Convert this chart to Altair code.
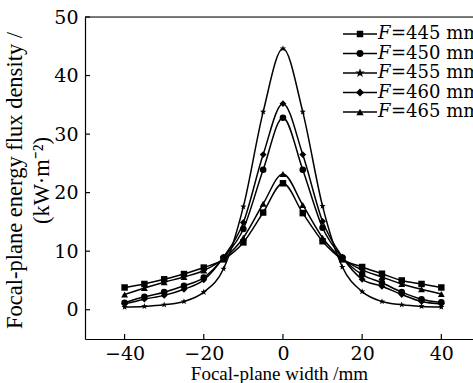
import altair as alt
import pandas as pd

# Focal-plane position (mm)
width_mm = [-40, -35, -30, -25, -20, -15, -10, -5, 0, 5, 10, 15, 20, 25, 30, 35, 40]

# Energy flux density (kW/m^2) for each focal length
flux_445 = [3.8, 4.4, 5.2, 6.1, 7.2, 8.6, 11.5, 16.6, 21.6, 16.5, 11.7, 8.6, 7.3, 6.15, 5.0, 4.4, 3.8]
flux_450 = [1.2, 2.2, 3.0, 4.1, 5.5, 8.9, 13.8, 23.9, 32.8, 23.9, 14.0, 8.9, 6.0, 4.6, 3.0, 1.8, 1.25]
flux_455 = [0.45, 0.57, 0.85, 1.4, 3.0, 7.0, 17.6, 33.8, 44.6, 33.8, 17.7, 7.3, 3.1, 1.4, 0.85, 0.57, 0.45]
flux_460 = [1.0, 1.8, 2.45, 3.5, 5.1, 9.0, 14.9, 26.5, 35.2, 26.5, 15.1, 9.0, 5.2, 4.0, 2.6, 1.4, 1.0]
flux_465 = [2.6, 3.7, 4.7, 5.6, 6.7, 8.7, 12.3, 18.1, 23.2, 17.9, 12.3, 8.7, 6.8, 5.6, 4.4, 3.5, 2.7]

focal_lengths = ["445", "450", "455", "460", "465"]
series_values = [flux_445, flux_450, flux_455, flux_460, flux_465]

x_ticks = [-40, -20, 0, 20, 40]
y_ticks = [0, 10, 20, 30, 40, 50]

# five-pointed star as a custom symbol path (unit box)
STAR = ("M0,-1L0.235,-0.324L0.951,-0.309L0.38,0.124L0.588,0.809L0,0.4"
        "L-0.588,0.809L-0.38,0.124L-0.951,-0.309L-0.235,-0.324Z")

# marker style per series
marker_shapes = ["square", "circle", STAR, "diamond", "triangle-up"]
marker_sizes = [42, 48, 95, 64, 55]

rows = []
for f, vals in zip(focal_lengths, series_values):
    for x, v in zip(width_mm, vals):
        rows.append({"F": f, "x": x, "flux": v})
df = pd.DataFrame(rows)

W, H = 388, 322
LABEL_FONT = "DejaVu Serif"
TITLE_FONT = "Liberation Serif"

x_scale = alt.Scale(domain=[-50, 48], nice=False, zero=False)
y_scale = alt.Scale(domain=[-5, 50], nice=False, zero=False)

x_axis = alt.Axis(
    values=x_ticks, format="d", tickSize=0, grid=False,
    labelFont=LABEL_FONT, labelFontSize=19, labelColor="black", labelPadding=5,
    domainColor="black", domainWidth=1.2,
    title="Focal-plane width /mm", titleFont=TITLE_FONT, titleFontSize=19,
    titleFontWeight="normal", titleColor="black", titlePadding=1,
)
y_axis = alt.Axis(
    values=y_ticks, format="d", tickSize=0, grid=False,
    labelFont=LABEL_FONT, labelFontSize=19, labelColor="black", labelPadding=7,
    domainColor="black", domainWidth=1.2,
    title=["Focal-plane energy flux density /", "(kW·m⁻²)"],
    titleFont=TITLE_FONT, titleFontSize=22.5, titleFontWeight="normal",
    titleColor="black", titleAngle=270, titleAlign="center", titleBaseline="middle",
    titleX=-71, titleY=H / 2 + 2, titleLineHeight=27,
)

X = alt.X("x:Q", scale=x_scale, axis=x_axis)
Y = alt.Y("flux:Q", scale=y_scale, axis=y_axis)

lines = alt.Chart(df).mark_line(
    interpolate="monotone", color="black", strokeWidth=1.5
).encode(x=X, y=Y, detail="F:N")

points = alt.Chart(df).mark_point(filled=True, color="black", opacity=1).encode(
    x=X, y=Y,
    shape=alt.Shape("F:N", scale=alt.Scale(domain=focal_lengths, range=marker_shapes), legend=None),
    size=alt.Size("F:N", scale=alt.Scale(domain=focal_lengths, range=marker_sizes), legend=None),
)

# inward tick marks
xt = alt.Chart(pd.DataFrame({"x": x_ticks})).mark_rule(color="black", strokeWidth=1.2).encode(
    x=X, y=alt.value(H), y2=alt.value(H - 5)
)
yt = alt.Chart(pd.DataFrame({"flux": y_ticks})).mark_rule(color="black", strokeWidth=1.2).encode(
    y=Y, x=alt.value(0), x2=alt.value(5)
)

dummy = pd.DataFrame({"a": [0]})
top_border = alt.Chart(dummy).mark_rule(color="black", strokeWidth=1.2).encode(
    x=alt.value(0), x2=alt.value(W), y=alt.value(0)
)

# hand-drawn legend: line + marker + italic F label
legend_layers = []
for i, (f, shp, sz) in enumerate(zip(focal_lengths, marker_shapes, marker_sizes)):
    yy = 17 + i * 19.5
    legend_layers.append(
        alt.Chart(dummy).mark_rule(color="black", strokeWidth=1.5).encode(
            x=alt.value(258), x2=alt.value(292), y=alt.value(yy))
    )
    legend_layers.append(
        alt.Chart(dummy).mark_point(shape=shp, size=sz, filled=True, color="black", opacity=1).encode(
            x=alt.value(275), y=alt.value(yy))
    )
    legend_layers.append(
        alt.Chart(dummy).mark_text(text="F", font=LABEL_FONT, fontStyle="italic", fontSize=18,
                                   align="left", baseline="middle", color="black").encode(
            x=alt.value(293), y=alt.value(yy))
    )
    legend_layers.append(
        alt.Chart(dummy).mark_text(text="=" + f + " mm", font=LABEL_FONT, fontSize=18,
                                   align="left", baseline="middle", color="black").encode(
            x=alt.value(306), y=alt.value(yy))
    )

chart = alt.layer(lines, points, xt, yt, top_border, *legend_layers).properties(
    width=W, height=H,
    autosize=alt.AutoSizeParams(type="none"),
    padding={"left": 85, "top": 17, "right": 0, "bottom": 44},
).configure_view(stroke=None).configure(background="white")

chart.save("out.html", embed_options={"renderer": "svg", "actions": False})
